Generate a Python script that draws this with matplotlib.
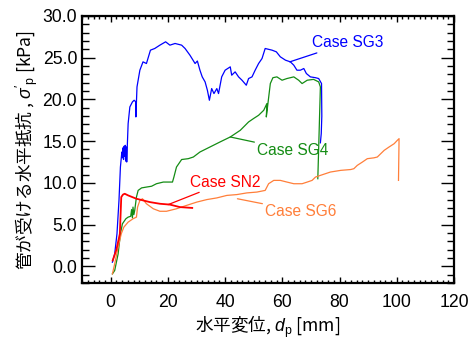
import matplotlib
matplotlib.use("Agg")
import matplotlib.pyplot as plt
from matplotlib.ticker import MultipleLocator, FormatStrFormatter

plt.rcParams['font.family'] = ['Liberation Sans', 'Noto Sans CJK JP', 'DejaVu Sans']
plt.rcParams['mathtext.fontset'] = 'custom'
plt.rcParams['mathtext.it'] = 'Liberation Sans:italic'
plt.rcParams['mathtext.rm'] = 'Liberation Sans'

# Case SG3
sg3_x = [0.6, 1.4, 2.2, 2.9, 3.4, 3.9, 4.1, 4.3, 4.5, 4.7, 4.9, 5.1, 5.3, 5.5, 5.6, 6.1, 6.7, 7.6, 8.2, 8.8, 8.8,
         9.2, 10.2, 11.3, 12.5, 13.9, 15.4, 17.2, 19.2, 20.7, 22.5, 24.8, 26.0, 27.7, 29.5, 30.3, 31.2, 32.0,
         33.0, 33.8, 34.5, 35.3, 36.1, 37.1, 37.7, 38.8, 40.0, 41.8, 42.3, 43.5, 44.7, 45.9, 47.4, 48.2,
         49.4, 50.5, 51.7, 52.9, 54.0, 55.2, 56.4, 57.9, 59.3, 61.1, 62.8, 64.0, 65.1, 66.3, 67.5, 68.4,
         69.8, 71.6, 72.7, 73.7, 73.8, 73.6, 73.3]
sg3_y = [0.5, 1.5, 3.9, 7.9, 11.9, 13.7, 13.0, 14.2, 12.8, 14.4, 13.2, 14.5, 12.6, 14.3, 12.5, 17.1, 19.1, 19.7, 19.9, 19.7, 17.9,
         21.5, 23.5, 24.5, 24.3, 25.9, 26.1, 26.5, 26.9, 26.5, 26.7, 26.5, 26.1, 25.3, 24.3, 24.6, 23.5, 22.7,
         22.1, 21.1, 19.9, 21.3, 20.7, 21.3, 20.7, 22.7, 23.5, 23.9, 22.9, 23.3, 22.7, 22.3, 21.7, 22.5,
         22.7, 23.5, 24.3, 24.9, 26.1, 26.0, 25.9, 25.7, 25.1, 24.7, 24.5, 24.1, 23.5, 23.5, 23.7, 23.1,
         22.7, 22.6, 22.5, 21.9, 18.0, 15.9, 14.8]

# Case SG4
sg4_x = [0.6, 1.4, 2.6, 3.4, 4.1, 5.3, 6.1, 7.0, 7.3, 7.6, 7.8, 8.1, 8.4, 9.0, 9.6, 10.8, 12.5, 14.3, 16.0,
         18.4, 20.1, 21.6, 22.1, 23.0, 24.8, 27.1, 28.9, 31.2, 34.7, 38.2, 41.8, 45.3, 48.2, 49.9, 51.7,
         53.5, 54.6, 54.4, 55.1, 55.8, 56.7, 58.1, 59.9, 61.6, 64.0, 65.7, 66.9, 68.7, 70.9, 72.7, 73.3, 72.4]
sg4_y = [-0.9, -0.5, 1.5, 3.9, 5.1, 5.7, 5.9, 6.0, 6.8, 5.8, 7.1, 6.2, 6.7, 8.3, 9.1, 9.4, 9.5, 9.6, 9.9,
         10.1, 10.1, 10.1, 10.7, 11.9, 12.8, 12.9, 13.1, 13.7, 14.3, 14.9, 15.5, 16.3, 17.3, 17.7, 18.1,
         18.7, 19.5, 17.9, 19.9, 21.9, 22.6, 22.7, 22.3, 22.5, 22.7, 22.3, 21.9, 22.3, 22.4, 22.1, 21.5, 10.5]

# Case SN2
sn2_x = [0.7, 2.0, 3.2, 3.7, 4.3, 4.9, 6.1, 9.0, 13.7, 17.2, 20.7, 24.2, 28.5]
sn2_y = [0.7, 2.0, 3.9, 8.3, 8.6, 8.7, 8.5, 8.1, 7.7, 7.5, 7.4, 7.1, 7.0]

# Case SG6
sg6_x = [0.6, 1.4, 2.6, 3.7, 4.6, 6.1, 7.8, 9.0, 9.4, 10.2, 11.1, 12.5, 14.9, 17.2, 19.5, 23.0, 26.5,
         30.1, 33.6, 37.1, 40.6, 44.1, 47.6, 51.1, 54.0, 55.2, 57.0, 59.3, 61.6, 64.0, 66.9, 68.7, 70.4,
         71.6, 73.3, 76.8, 80.4, 83.9, 85.0, 86.2, 88.0, 89.7, 92.0, 93.2, 94.4, 95.6, 97.3, 99.1, 100.2,
         100.8, 100.6]
sg6_y = [-0.9, 0.3, 2.3, 3.9, 4.7, 5.3, 5.7, 5.9, 7.1, 7.9, 8.1, 7.5, 6.9, 6.6, 6.6, 6.9, 7.3,
         7.7, 8.0, 8.2, 8.5, 8.6, 8.8, 8.9, 9.1, 9.9, 10.3, 10.3, 10.1, 9.9, 9.9, 10.1, 10.3,
         10.7, 10.9, 11.3, 11.5, 11.6, 11.7, 12.1, 12.5, 12.9, 13.0, 13.1, 13.5, 13.9, 14.3, 14.7, 15.1,
         15.3, 10.3]

blue = '#0000FF'
green = '#148C14'
red = '#FF0000'
orange = '#FF7F3A'

fig = plt.figure(figsize=(4.69, 3.39), dpi=100)
ax = fig.add_axes([0.175, 0.165, 0.793, 0.788])

ax.plot(sg3_x, sg3_y, color=blue, lw=0.9)
ax.plot(sg4_x, sg4_y, color=green, lw=0.9)
ax.plot(sg6_x, sg6_y, color=orange, lw=0.9)
ax.plot(sn2_x, sn2_y, color=red, lw=1.3)

fs = 12.7
afs = 11.2
ann = dict(fontsize=afs, va='center', ha='left')
ax.annotate('Case SG3', xy=(62.6, 24.5), xytext=(70.5, 26.8), color=blue,
            arrowprops=dict(arrowstyle='-', color=blue, lw=0.9, shrinkA=0, shrinkB=0), **ann)
ax.annotate('Case SG4', xy=(41.8, 15.5), xytext=(51.2, 13.9), color=green,
            arrowprops=dict(arrowstyle='-', color=green, lw=0.9, shrinkA=0, shrinkB=0), **ann)
ax.annotate('Case SN2', xy=(20.1, 7.4), xytext=(27.7, 10.1), color=red,
            arrowprops=dict(arrowstyle='-', color=red, lw=0.9, shrinkA=0, shrinkB=0), **ann)
ax.annotate('Case SG6', xy=(44.3, 8.1), xytext=(54.0, 6.6), color=orange,
            arrowprops=dict(arrowstyle='-', color=orange, lw=0.9, shrinkA=0, shrinkB=0), **ann)

ax.set_xlim(-10, 120)
ax.set_ylim(-2, 30)
ax.xaxis.set_major_locator(MultipleLocator(20))
ax.xaxis.set_minor_locator(MultipleLocator(2))
ax.yaxis.set_major_locator(MultipleLocator(5))
ax.yaxis.set_minor_locator(MultipleLocator(1))
ax.yaxis.set_major_formatter(FormatStrFormatter('%.1f'))

ax.tick_params(axis='both', which='both', direction='in', top=True, right=True, labelsize=fs, width=1.0)
ax.tick_params(axis='y', which='major', length=9.5)
ax.tick_params(axis='y', which='minor', length=5)
ax.tick_params(axis='x', which='major', length=4.5)
ax.tick_params(axis='x', which='minor', length=2.3)
ax.tick_params(axis='x', which='major', pad=8)
for s in ax.spines.values():
    s.set_linewidth(1.6)

cjk = 'Noto Sans CJK JP'
ax.set_xlabel('水平変位, $d_\\mathrm{p}$ [mm]', fontsize=fs, family=cjk, labelpad=2)
ax.set_ylabel("管が受ける水平抵抗 , $\\sigma'_\\mathrm{p}$ [kPa]", fontsize=fs, family=cjk, labelpad=2)

fig.savefig('out.png', dpi=100)
